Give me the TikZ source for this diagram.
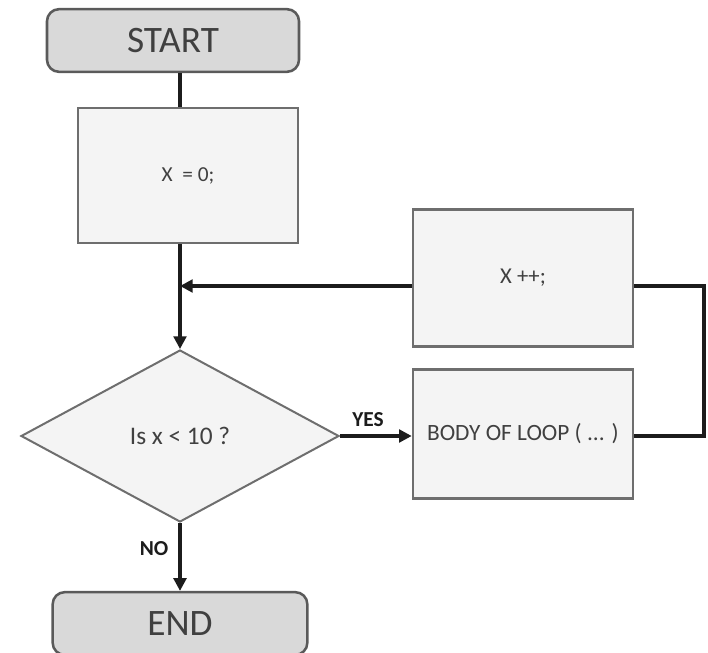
\documentclass[tikz,border=0pt]{standalone}
\usepackage{fontspec}
\setmainfont{Carlito}
\usetikzlibrary{shapes.geometric,arrows.meta}
\definecolor{termfill}{HTML}{D9D9D9}
\definecolor{termedge}{HTML}{5A5A5A}
\definecolor{boxfill}{HTML}{F4F4F4}
\definecolor{boxedge}{HTML}{6E6E6E}
\definecolor{txt}{HTML}{404040}
\definecolor{wire}{HTML}{1C1C1C}
\newcommand{\fs}[1]{\fontsize{#1}{1.2\dimexpr#1\relax}\selectfont}
\begin{document}
\begin{tikzpicture}[x=0.75pt,y=-0.75pt,
  terminal/.style={draw=termedge,fill=termfill,line width=1.9pt,rounded corners=9pt,
    minimum width=189pt,minimum height=47pt,inner sep=0pt,text=txt,font=\fs{28pt}},
  procbox/.style={draw=boxedge,fill=boxfill,line width=1.9pt,
    minimum width=165pt,inner sep=0pt,text=txt},
  decision/.style={diamond,draw=boxedge,fill=boxfill,line width=1.5pt,
    minimum width=238.5pt,minimum height=129pt,inner sep=0pt,text=txt,font=\fs{19pt}},
  wireline/.style={draw=wire,line width=2.3pt},
  flow/.style={wireline,-{Triangle[length=9.5pt,width=9.5pt]}},
  branch/.style={text=wire,font=\bfseries\fs{16pt}}]
\useasboundingbox (0,0) rectangle (708,653);

% nodes
\node[terminal] (start) at (173,40.5) {START};
\node[procbox,minimum height=101pt,font=\fs{16pt}] (init) at (188,175.5) {X\ \ = 0;};
\node[decision] (test) at (180,436) {Is x < 10 ?};
\node[procbox,minimum height=103pt,font=\fs{17pt}] (incr) at (523,278) {X ++;};
\node[procbox,minimum height=97pt,font=\fs{17.5pt}] (body) at (523,434) {BODY OF LOOP ( ... )};
\node[terminal,minimum width=191pt] (stop) at (180,623.5) {END};

% connectors
\coordinate (incrout) at ([yshift=-6pt]incr.east);
\coordinate (incrin) at ([yshift=-6pt]incr.west);
\coordinate (merge) at (test.north |- incrin);
\coordinate (loopcorner) at (704,0);

\draw[wireline] (test.north |- start.south) -- (test.north |- init.north);
\draw[flow] (test.north |- init.south) -- (test.north);
\draw[flow] (incrin) -- (merge);
\draw[flow] (test.east) -- (test.east -| body.west);
\draw[wireline] (body.east |- test.east) -| (loopcorner |- test.east) |- (incrout);
\draw[flow] (test.south) -- (stop.north);

% branch labels
\node[branch] (yes) at (368,420) {YES};
\node[branch] (no) at (154,549) {NO};
\end{tikzpicture}
\end{document}
